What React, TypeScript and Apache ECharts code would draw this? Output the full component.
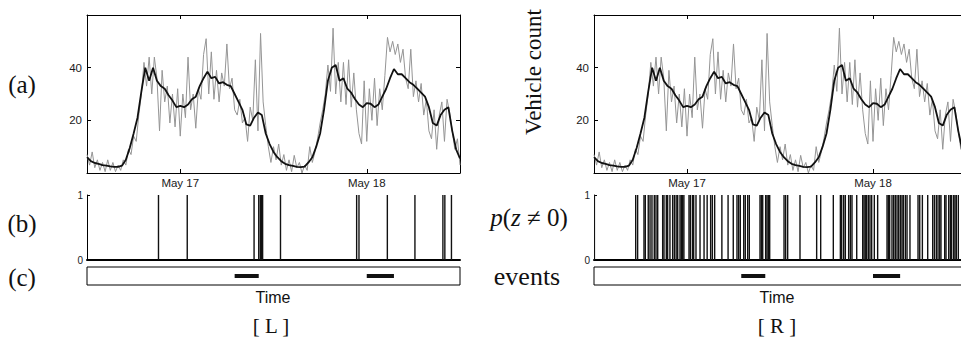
import React, { useEffect, useRef } from "react";
import * as echarts from "echarts";

// Time is counted in hours from May 16 00:00; the plots run May 16 12:00 -> May 18 12:00.
const START_HOUR = 12;
const END_HOUR = 60;
const SMOOTH_STEP = 0.5; // sampling of the smoothed (black) curve
const RAW_STEP = 1 / 3; // sampling of the raw (gray) counts

const dayTickHours = [24, 48];
const dayTickLabels = ["May 17", "May 18"];
const countTicks = [20, 40];

// Smoothed vehicle count (black), every 30 min from May 16 12:00
const smoothedCount = [
  6, 4.5, 3.8, 3.5, 3.0, 2.8, 2.5, 2.3, 2.3, 2.8,
  5, 9.5, 15, 21, 31, 40, 35, 40, 35, 33,
  32, 29.5, 27.5, 25, 25.5, 25, 26, 28, 29, 33,
  36, 38.5, 36, 36.5, 34, 34.5, 33.5, 33, 30, 27,
  24, 18.5, 18, 21, 23, 22, 15, 11, 8, 6,
  4.5, 3.5, 3, 2.7, 2.3, 2.2, 2.4, 4, 6, 10,
  15, 24, 35, 40, 41, 35, 36, 32, 30.5, 28,
  26, 25, 26.5, 26.3, 25, 26, 29, 32, 36, 39.5,
  37.5, 37.5, 36, 34.5, 33.5, 32, 30.5, 29, 25, 19,
  18, 22, 24, 25, 16, 9, 5.5,
];

// Raw vehicle count (gray), every 20 min from May 16 12:00
const rawCount = [
  7, 3, 8, 2, 5, 1, 4, 0.5, 5,
  1, 4, 0.5, 3, 1, 5, 3, 9, 7,
  14, 12, 22, 30, 42, 33, 44, 30, 44,
  36, 16, 39, 27, 33, 19, 30, 17.5, 32,
  14, 30, 21, 44, 24, 30, 17, 32, 28,
  45, 51, 30, 46, 28, 39, 27, 38, 33,
  49, 32, 36, 24, 22, 28, 19, 21, 12,
  25, 20, 43, 16, 53, 27, 18, 10, 4,
  10, 5, 11, 3, 7, 1, 5, 0.5, 6.7,
  2, 4, 0, 3, 1, 10, 4, 8, 13,
  19, 24, 30, 41, 31, 55, 30, 42, 27,
  42, 26, 43, 25, 38, 24, 15, 11, 35,
  12, 32, 20, 36, 18, 32, 24, 37, 51.5,
  46, 50, 45, 49, 42, 47, 36, 32, 47,
  29, 35, 27, 34, 22, 28, 16, 13, 24,
  9, 22, 27, 12, 28, 23, 16, 9, 13,
  3,
];

// p(z != 0) = 1 instants (hours), left and right models
const spikesL = [21.2, 24.9, 33.5, 34.1, 34.3, 34.45, 34.6, 36.9, 46.7, 47.0, 50.65, 54.2, 57.8, 58.05, 58.9];
const spikesR = [
  12.05, 17.38, 17.63, 18.45, 18.62, 19.0, 19.23, 19.48, 19.78, 20.0, 20.22, 20.86, 21.03, 21.33, 21.5, 21.8,
  22.15, 22.37, 22.6, 22.8, 23.1, 23.27, 23.44, 23.6, 24.26, 24.43, 24.7, 24.86, 25.16, 25.68, 26.2, 26.6,
  27.05, 27.27, 27.57, 28.5, 29.3, 29.97, 30.45, 30.67, 30.88, 31.32, 31.52, 31.83, 32.04, 33.42, 33.59,
  33.77, 34.15, 34.32, 34.49, 34.67, 36.52, 36.73, 36.99, 38.58, 40.73, 41.25, 42.88, 43.79, 43.96, 44.22,
  44.43, 44.86, 45.08, 45.29, 45.9, 46.67, 46.84, 47.0, 47.18, 47.4, 47.61, 47.83, 48.17, 48.6, 49.81,
  49.98, 50.15, 50.45, 50.67, 50.88, 51.1, 51.31, 51.53, 51.74, 51.91, 52.17, 52.39, 52.77, 53.81, 54.03,
  54.37, 55.06, 55.7, 55.92, 56.17, 56.39, 56.61, 56.77, 57.25, 57.42, 57.77, 57.98, 58.15, 58.41, 58.58,
  58.75, 59.01,
];

// Known events (start/end hours)
const eventStarts = [31, 48];
const eventEnds = [34.1, 51.5];

const SERIF = "'Liberation Serif', 'Times New Roman', serif";
const SANS = "'Liberation Sans', Arial, Helvetica, sans-serif";

function buildOption() {
  const panelLefts = [87, 594];
  const panelWidths = [373, 372];
  const spikeSets = [spikesL, spikesR];

  const grid: any[] = [];
  const xAxis: any[] = [];
  const yAxis: any[] = [];
  const series: any[] = [];

  const smoothData = smoothedCount.map((v, i) => [START_HOUR + i * SMOOTH_STEP, v]);
  const rawData = rawCount.map((v, i) => [START_HOUR + i * RAW_STEP, v]);

  const tickLabelStyle = { fontFamily: SANS, fontSize: 11.5, color: "#1a1a1a" };
  const blackLine = { color: "#000", width: 1 };

  panelLefts.forEach((left, p) => {
    const width = panelWidths[p];
    const gA = grid.length;
    grid.push({ left, top: 15, width, height: 158, containLabel: false, outerBoundsMode: "none" });
    const gB = grid.length;
    grid.push({ left, top: 195, width, height: 65, containLabel: false, outerBoundsMode: "none" });
    const gC = grid.length;
    grid.push({
      left, top: 267, width, height: 18, containLabel: false, outerBoundsMode: "none",
      show: true, borderColor: "#000", borderWidth: 1, backgroundColor: "transparent",
    });

    const xBase = xAxis.length;
    const yBase = yAxis.length;
    xAxis.push({
      type: "value", gridIndex: gA, min: START_HOUR, max: END_HOUR, position: "bottom",
      axisLine: { show: true, onZero: false, lineStyle: blackLine },
      axisTick: { show: true, inside: true, length: 4, customValues: dayTickHours, lineStyle: blackLine },
      axisLabel: {
        show: true, customValues: dayTickHours, margin: 4, ...tickLabelStyle,
        formatter: (v: number) => {
          const k = dayTickHours.indexOf(v);
          return k >= 0 ? dayTickLabels[k] : "";
        },
      },
      splitLine: { show: false },
    });
    xAxis.push({
      type: "value", gridIndex: gA, min: START_HOUR, max: END_HOUR, position: "top",
      axisLine: { show: true, onZero: false, lineStyle: blackLine },
      axisTick: { show: true, inside: true, length: 4, customValues: dayTickHours, lineStyle: blackLine },
      axisLabel: { show: false },
      splitLine: { show: false },
    });
    xAxis.push({
      type: "value", gridIndex: gB, min: START_HOUR, max: END_HOUR, position: "bottom",
      axisLine: { show: true, onZero: false, lineStyle: { color: "#000", width: 2 } },
      axisTick: { show: false }, axisLabel: { show: false }, splitLine: { show: false },
    });
    xAxis.push({ type: "value", gridIndex: gC, min: START_HOUR, max: END_HOUR, show: false, splitLine: { show: false } });

    yAxis.push({
      type: "value", gridIndex: gA, min: 0, max: 60, position: "left",
      axisLine: { show: true, onZero: false, lineStyle: blackLine },
      axisTick: { show: true, inside: true, length: 4, customValues: countTicks, lineStyle: blackLine },
      axisLabel: { show: true, customValues: countTicks, margin: 5, ...tickLabelStyle },
      splitLine: { show: false },
    });
    yAxis.push({
      type: "value", gridIndex: gA, min: 0, max: 60, position: "right",
      axisLine: { show: true, onZero: false, lineStyle: blackLine },
      axisTick: { show: true, inside: true, length: 4, customValues: countTicks, lineStyle: blackLine },
      axisLabel: { show: false },
      splitLine: { show: false },
    });
    yAxis.push({
      type: "value", gridIndex: gB, min: 0, max: 1, interval: 1, position: "left",
      axisLine: { show: true, onZero: false, lineStyle: blackLine },
      axisTick: { show: true, inside: true, length: 3, lineStyle: blackLine },
      axisLabel: { show: true, margin: 4, fontFamily: SANS, fontSize: 10, color: "#1a1a1a" },
      splitLine: { show: false },
    });
    yAxis.push({ type: "value", gridIndex: gC, min: 0, max: 1, show: false, splitLine: { show: false } });

    series.push({
      type: "line", xAxisIndex: xBase, yAxisIndex: yBase, data: rawData, showSymbol: false,
      lineStyle: { color: "#959595", width: 1 }, clip: true, z: 2,
    });
    series.push({
      type: "line", xAxisIndex: xBase, yAxisIndex: yBase, data: smoothData, showSymbol: false,
      lineStyle: { color: "#111", width: 1.8 }, clip: true, z: 3,
    });
    series.push({
      type: "custom", xAxisIndex: xBase + 2, yAxisIndex: yBase + 2,
      data: spikeSets[p].map((h) => [h, 1]),
      encode: { x: 0, y: 1 },
      clip: true,
      renderItem: (_params: any, api: any) => {
        const h = api.value(0);
        const top = api.coord([h, api.value(1)]);
        const bot = api.coord([h, 0]);
        return {
          type: "line",
          shape: { x1: top[0], y1: top[1], x2: bot[0], y2: bot[1] },
          style: { stroke: "#111", lineWidth: 1.4 },
        };
      },
    });
    series.push({
      type: "custom", xAxisIndex: xBase + 3, yAxisIndex: yBase + 3,
      data: eventStarts.map((s, i) => [s, eventEnds[i]]),
      encode: { x: [0, 1] },
      renderItem: (_params: any, api: any) => {
        const a = api.coord([api.value(0), 0.5]);
        const b = api.coord([api.value(1), 0.5]);
        return {
          type: "line",
          shape: { x1: a[0], y1: a[1], x2: b[0], y2: b[1] },
          style: { stroke: "#111", lineWidth: 4 },
        };
      },
    });
  });

  const txt = (text: string, x: number, y: number, fontSize: number, fontFamily: string, extra: any = {}) => ({
    type: "text",
    x,
    y,
    rotation: extra.rotation || 0,
    style: {
      text,
      fontSize,
      fontFamily,
      fill: "#111",
      align: "center",
      verticalAlign: "middle",
      textAlign: "center",
      textVerticalAlign: "middle",
      ...(extra.styleExtra || {}),
    },
  });

  const graphic = [
    txt("(a)", 22, 84, 25, SERIF),
    txt("(b)", 22, 223, 25, SERIF),
    txt("(c)", 22, 277, 25, SERIF),
    txt("Vehicle count", 533, 72, 23, SERIF, { rotation: Math.PI / 2 }),
    txt("{i|p}({i|z} ≠ 0)", 529, 217, 25, SERIF, {
      styleExtra: { rich: { i: { fontStyle: "italic", fontFamily: SERIF, fontSize: 25 } } },
    }),
    txt("events", 527, 276, 26, SERIF),
    txt("Time", 273, 297, 16, SANS),
    txt("Time", 777, 297, 16, SANS),
    txt("[ L ]", 271, 326, 21, SERIF),
    txt("[ R ]", 777, 326, 21, SERIF),
  ];

  return {
    animation: false,
    backgroundColor: "#fff",
    grid,
    xAxis,
    yAxis,
    series,
    graphic,
  };
}

export default function App() {
  const ref = useRef<HTMLDivElement>(null);
  useEffect(() => {
    if (!ref.current) return;
    const chart = echarts.init(ref.current, undefined, { renderer: "svg" });
    chart.setOption(buildOption() as any);
    return () => chart.dispose();
  }, []);
  return (
    <div
      ref={ref}
      style={{ position: "absolute", left: 0, top: 0, width: 961, height: 342, background: "#fff", overflow: "hidden" }}
    />
  );
}
